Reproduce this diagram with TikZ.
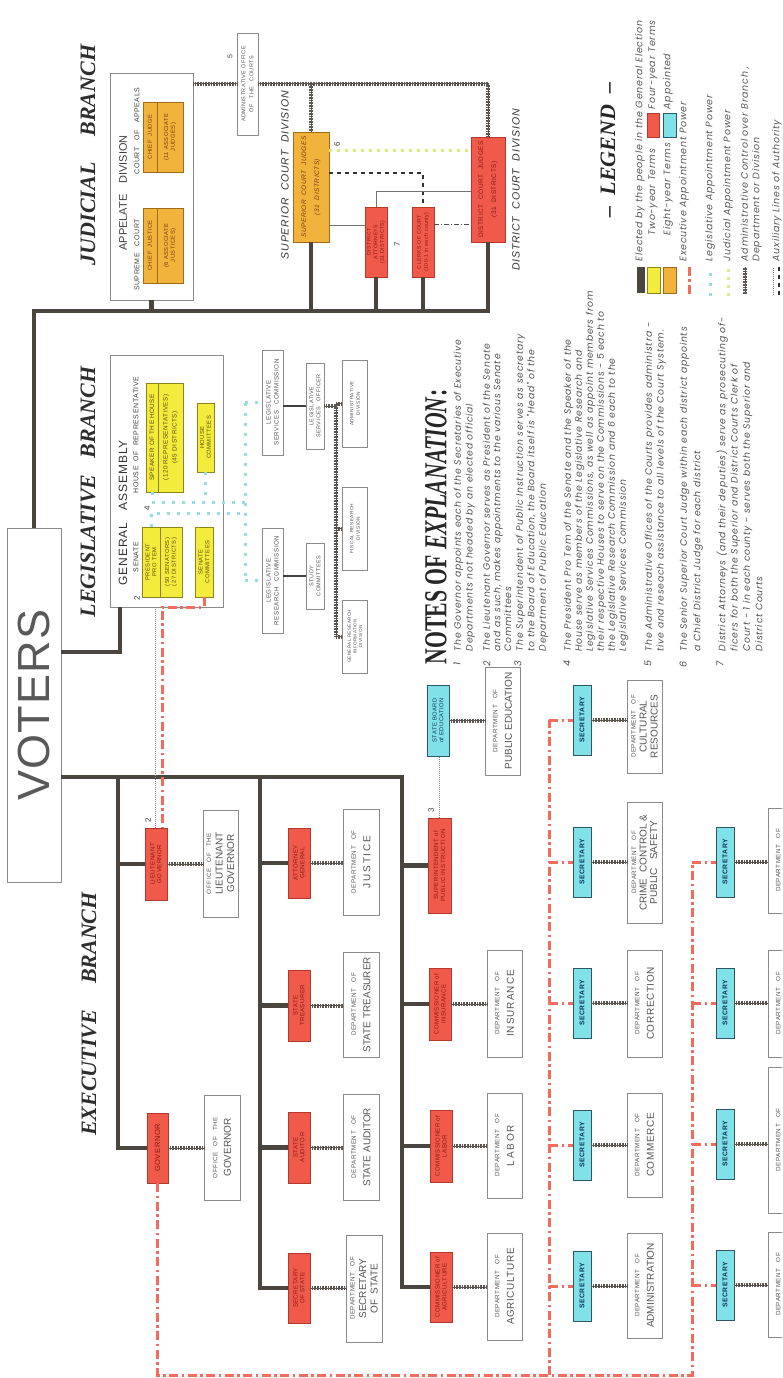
\documentclass[tikz,border=0pt]{standalone}
\usepackage{fontspec}
\usepackage{graphicx}
\setmainfont{Liberation Sans}
\newfontfamily\serifT{Liberation Serif}
\newfontfamily\spaced[LetterSpace=8]{Liberation Sans}
\newfontfamily\wider[LetterSpace=18]{Liberation Sans}
\newfontfamily\notefont[LetterSpace=8]{Poppins}
\newfontfamily\legfont[LetterSpace=8]{Poppins}
\usetikzlibrary{calc}
\definecolor{rfill}{HTML}{EF5A4B}
\definecolor{rdraw}{HTML}{B4392C}
\definecolor{rtext}{HTML}{8A1810}
\definecolor{yfill}{HTML}{F3EC3C}
\definecolor{ydraw}{HTML}{8C8420}
\definecolor{ytext}{HTML}{5C4A10}
\definecolor{ofill}{HTML}{F2B33C}
\definecolor{odraw}{HTML}{A06A1A}
\definecolor{otext}{HTML}{7A3A10}
\definecolor{cfill}{HTML}{80E2E8}
\definecolor{cdraw}{HTML}{2F5666}
\definecolor{ctext}{HTML}{10305A}
\definecolor{trunk}{HTML}{4B4540}
\definecolor{exred}{HTML}{F26B5B}
\definecolor{legcyan}{HTML}{98DDE6}
\definecolor{judyel}{HTML}{DCEB7A}
\definecolor{hatchc}{HTML}{5A5550}
\definecolor{dgray}{HTML}{555555}
\definecolor{bgray}{HTML}{8A8A8A}
\newcommand{\deptof}{{\fontsize{6.3}{7}\spaced DEPARTMENT\quad OF}}
\newcommand{\offthe}{{\fontsize{6.3}{7}\spaced OFFICE\quad OF\quad THE}}
\tikzset{
  sz/.style 2 args={minimum height=#1pt, minimum width=#2pt},
  rot/.style={rotate=90, inner sep=0.5pt, align=center},
  redbox/.style={rot, draw=rdraw, fill=rfill, text=rtext, line width=0.7pt, font=\fontsize{6}{6.8}\spaced},
  cyanbox/.style={rot, draw=cdraw, fill=cfill, text=ctext, line width=0.8pt, font=\fontsize{6.8}{8}\spaced\bfseries},
  yelbox/.style={rot, draw=ydraw, fill=yfill, text=ytext, line width=0.6pt, font=\fontsize{5.8}{6.8}\spaced},
  orbox/.style={rot, draw=odraw, fill=ofill, text=otext, line width=0.6pt, font=\fontsize{5.8}{6.8}\spaced},
  deptbox/.style={rot, draw=bgray, fill=white, text=dgray, line width=0.6pt, font=\fontsize{10}{11.5}\selectfont},
  smallbox/.style={rot, draw=bgray, fill=white, text=dgray, line width=0.6pt, font=\fontsize{5.5}{7}\spaced},
  trunkline/.style={draw=trunk, line width=4.6pt, line join=miter},
  admin/.style={draw=hatchc, line width=1pt, preaction={draw=hatchc, line width=4pt, dash pattern=on 0.7pt off 0.9pt}},
  execline/.style={draw=exred, line width=3pt, dash pattern=on 9pt off 3.5pt on 2.5pt off 3.5pt},
  legline/.style={draw=legcyan, line width=3pt, dash pattern=on 3pt off 7pt},
  judline/.style={draw=judyel, line width=3pt, dash pattern=on 3pt off 5pt},
  auxline/.style={draw=bgray, line width=0.8pt, dash pattern=on 1pt off 1pt},
  auxdash/.style={draw=black!80, line width=1.3pt, dash pattern=on 4pt off 4pt},
  thinline/.style={draw=black!55, line width=0.8pt},
  dashdotthin/.style={draw=black!70, line width=0.9pt, dash pattern=on 5pt off 2pt on 1pt off 2pt},
  staffline/.style={draw=black!75, line width=1.1pt},
  titlefont/.style={rot, text=black!82, font=\serifT\bfseries\itshape\fontsize{22}{24}\selectfont},
  lbl/.style={rot, text=black!75},
  note/.style={rot, anchor=north west, align=left, text=black!68, font=\notefont\itshape\fontsize{9.3}{11.8}\selectfont},
  notenum/.style={rot, text=black!70, font=\notefont\itshape\fontsize{9.5}{12}\selectfont},
  legtext/.style={rot, anchor=west, text=black!65, font=\legfont\itshape\fontsize{9.5}{11}\selectfont},
}
\begin{document}
\begin{tikzpicture}[x=1pt, y=-1pt]
\path[use as bounding box, fill=white] (0,0) rectangle (782,1378);
\clip (0,0) rectangle (782,1378);

% ---------------- titles ----------------
\node[titlefont] (tExec) at (89,1014) {EXECUTIVE\hspace{26pt}BRANCH};
\node[titlefont] (tLeg) at (88,492) {LEGISLATIVE\hspace{16pt}BRANCH};
\node[titlefont] (tJud) at (88,155) {JUDICIAL\hspace{26pt}BRANCH};

% ---------------- voters ----------------
\node[rot, draw=bgray, line width=0.8pt, sz={54}{354}, text=black!65,
      font=\fontsize{45}{50}\selectfont\addfontfeature{LetterSpace=3}] (voters) at (34,705) {VOTERS};

% ---------------- judicial ----------------
\coordinate (jend) at (490,311);
\node[rot, draw=bgray, fill=white, line width=0.7pt, sz={83}{227}] (app) at (151.5,186.5) {};
\node[lbl, font=\fontsize{11}{12}\selectfont] (tApp) at (123,193) {APPELATE\quad DIVISION};
\node[lbl, font=\fontsize{7}{8}\spaced] (tSupC) at (137,255) {SUPREME\quad COURT};
\node[lbl, font=\fontsize{7}{8}\spaced] (tCoa) at (137,131) {COURT\quad OF\quad APPEALS};
\node[orbox, sz={14}{75}] (scj) at (150,245.5) {CHIEF\ \ JUSTICE};
\node[orbox, sz={26}{75}] (sca) at (170,245.5) {(6 ASSOCIATE\\JUSTICES)};
\node[orbox, sz={14}{70}] (caj) at (150,137) {CHIEF\ \ JUDGE};
\node[orbox, sz={26}{70}] (caa) at (170,137) {(11 ASSOCIATE\\JUDGES)};

\node[smallbox, sz={21}{102}, font=\fontsize{5.5}{8}\spaced] (aoc) at (247.5,84) {ADMINISTRATIVE\ OFFICE\\OF\quad THE\quad COURTS};
\node[lbl, font=\fontsize{7}{8}\selectfont] (n5) at (230,57) {5};

\node[orbox, sz={36}{110}, font=\fontsize{6.5}{13}\spaced\itshape] (sup) at (311,187) {SUPERIOR\ \ COURT\ \ JUDGES\\(31\ \ DISTRICTS)};
\node[redbox, sz={22}{70}, font=\fontsize{5.2}{6.6}\spaced] (da) at (376,242) {DISTRICT\\ATTORNEYS\\(31 DISTRICTS)};
\node[redbox, sz={22}{70}, font=\fontsize{5.2}{7}\spaced] (clk) at (423,242) {CLERKS OF COURT\\(100-1 in each county)};
\node[redbox, sz={34}{105}, font=\fontsize{6.5}{13}\spaced] (dist) at (488,189.5) {DISTRICT\ \ COURT\ \ JUDGES\\(31\ \ DISTRICTS)};

\node[lbl, text=black!80, font=\fontsize{10.5}{12}\spaced\itshape] (tSCD) at (285,175) {SUPERIOR\ \ COURT\ \ DIVISION};
\node[lbl, text=black!80, font=\fontsize{10.5}{12}\spaced\itshape] (tDCD) at (516,190) {DISTRICT\ \ COURT\ \ DIVISION};
\node[lbl, font=\fontsize{8}{9}\selectfont] (n6) at (337,144) {6};
\node[lbl, font=\fontsize{8}{9}\selectfont] (n7) at (397,244) {7};

\draw[trunkline] (voters.east) |- (jend);
\draw[trunkline] (app.west) -- (app.west |- jend);
\draw[trunkline] (sup.west) -- (sup.west |- jend);
\draw[trunkline] (da.west) -- (da.west |- jend);
\draw[trunkline] (clk.west) -- (clk.west |- jend);
\draw[trunkline] (dist.west) -- (dist.west |- jend);

\draw[admin] (app.south |- aoc.north) -- (aoc.north);
\draw[admin] (aoc.south) -| (dist.east);
\draw[admin] (sup.east |- aoc.south) -- (sup.east);
\draw[judline] (sup.south |- 0,150) -- (dist.north |- 0,150);
\draw[auxdash] (sup.south |- 0,173) -| (clk.east);
\draw[thinline] (da.east) |- (dist.north |- 0,191);
\draw[thinline] (sup.south |- 0,225) -- (da.north |- 0,225);
\draw[dashdotthin] (clk.south |- 0,224) -- (dist.north |- 0,224);

% ---------------- legislative ----------------
\coordinate (lgA) at (120,652);
\node[rot, draw=bgray, fill=white, line width=0.7pt, sz={113}{252}] (ga) at (166.5,481) {};
\draw[trunkline] (voters.south |- lgA) -| (lgA |- ga.west);
\node[lbl, text=black!80, font=\fontsize{12}{13}\selectfont\addfontfeature{LetterSpace=8}] (tGA) at (123,513) {GENERAL\quad ASSEMBLY};
\node[lbl, font=\fontsize{7}{8}\spaced] (tSen) at (136,557) {SENATE};
\node[lbl, font=\fontsize{7}{8}\spaced] (tHouse) at (136,435) {HOUSE\ \ OF\ \ REPRESENTATIVE};
\node[lbl, font=\fontsize{8}{9}\selectfont] (n2a) at (137,598) {2};
\node[lbl, font=\fontsize{8}{9}\selectfont] (n4) at (147,508) {4};
\node[yelbox, sz={18}{70}] (pres) at (151,562) {PRESIDENT\\PRO TEM};
\node[yelbox, sz={22}{70}] (sen) at (171,562) {(50 SENATORS)\\(27 DISTRICTS)};
\node[yelbox, sz={12}{109}, font=\fontsize{6.3}{7}\spaced] (spk) at (152,437.5) {SPEAKER OF THE HOUSE};
\node[yelbox, sz={25}{109}, font=\fontsize{6.3}{9}\spaced] (rep) at (170.5,437.5) {(120 REPRESENTATIVES)\\(45 DISTRICTS)};
\node[yelbox, sz={18}{70}] (scom) at (204,562) {SENATE\\COMMITTEES};
\node[yelbox, sz={17}{69}] (hcom) at (205.5,437.5) {HOUSE\\COMMITTEES};

\node[smallbox, sz={21}{105}, font=\fontsize{6.2}{8}\spaced] (lsc) at (272.5,402.5) {LEGISLATIVE\\SERVICES\quad COMMISSION};
\node[smallbox, sz={21}{105}, font=\fontsize{6.2}{8}\spaced] (lrc) at (272.5,580.5) {LEGISLATIVE\\RESEARCH\quad COMMISSION};
\node[smallbox, sz={18}{66}] (study) at (315,576) {STUDY\\COMMITTEES};
\node[smallbox, sz={18}{86}] (lso) at (315,406) {LEGISLATIVE\\SERVICES\quad OFFICER};
\node[smallbox, sz={25}{87}, font=\fontsize{4.8}{6.5}\spaced] (dadm) at (355,403.5) {ADMINISTRATIVE\\DIVISION};
\node[smallbox, sz={25}{83}, font=\fontsize{4.8}{6.5}\spaced] (dfis) at (355,528.5) {FISCAL\ RESEARCH\\DIVISION};
\node[smallbox, sz={25}{73}, font=\fontsize{4.5}{5.6}\spaced] (dgri) at (355,636.5) {GENERAL RESEARCH\\INFORMATION\\DIVISION};

\coordinate (hx) at (336,0);
\draw[staffline] (lrc.south |- study.north) -- (study.north);
\draw[staffline] (lsc.south |- lso.north) -- (lso.north);
\draw[admin] (lso.south) -- (hx |- lso.south);
\draw[admin] (hx |- dadm.north) -- (hx |- dgri.north);
\draw[admin] (hx |- dadm.north) -- (dadm.north);
\draw[admin] (hx |- dfis.north) -- (dfis.north);
\draw[admin] (hx |- dgri.north) -- (dgri.north);

\coordinate (cv) at (245,0);
\draw[legline] (spk.west) |- (cv |- 0,502);
\draw[legline] (pres.east) |- (cv |- 0,513);
\draw[legline] (hcom.west) -- (hcom.west |- 0,502);
\draw[legline] (cv |- lsc.north) -- (cv |- lrc.north);
\draw[legline] (cv |- lsc.north) -- (lsc.north);
\draw[legline] (cv |- lrc.north) -- (lrc.north);

% ---------------- executive ----------------
\coordinate (eT1) at (118,777);
\coordinate (eT2) at (260,777);
\coordinate (eT3) at (402,777);

\node[redbox, sz={22}{72}] (ltgov) at (156,864) {LIEUTENANT\\GOVERNOR};
\node[redbox, sz={21}{70}, font=\fontsize{7.5}{8}\spaced] (gov) at (157.5,1148) {GOVERNOR};
\node[redbox, sz={22}{70}] (ag) at (299,863) {ATTORNEY\\GENERAL};
\node[redbox, sz={22}{71}] (treas) at (299,1005.5) {STATE\\TREASURER};
\node[redbox, sz={22}{71}] (aud) at (299,1147.5) {STATE\\AUDITOR};
\node[redbox, sz={22}{70}] (sos) at (299,1288) {SECRETARY\\OF STATE};
\node[redbox, sz={23}{95}] (supt) at (439.5,865.5) {SUPERINTENDENT of\\PUBLIC INSTRUCTION};
\node[redbox, sz={22}{72}] (ins) at (440,1004) {COMMISSIONER of\\INSURANCE};
\node[redbox, sz={22}{72}] (lab) at (441,1146) {COMMISSIONER of\\LABOR};
\node[redbox, sz={22}{70}] (agr) at (441,1287) {COMMISSIONER of\\AGRICULTURE};
\node[cyanbox, sz={22}{71}, font=\fontsize{5.8}{6.8}\spaced] (sbe) at (438,720.5) {STATE BOARD\\of EDUCATION};
\node[lbl, font=\fontsize{8}{9}\selectfont] (n2b) at (148,820) {2};
\node[lbl, font=\fontsize{8}{9}\selectfont] (n3) at (431,810) {3};

\node[deptbox, sz={35}{107}] (offltgov) at (220.5,863.5) {\offthe\\LIEUTENANT\\GOVERNOR};
\node[deptbox, sz={36}{105}] (offgov) at (222,1147.5) {\offthe\\[2pt]GOVERNOR};
\node[deptbox, sz={36}{106}] (djus) at (361,862) {\deptof\\[3pt]{\wider JUSTICE}};
\node[deptbox, sz={36}{105}] (dtreas) at (361,1004.5) {\deptof\\[3pt]STATE TREASURER};
\node[deptbox, sz={36}{106}] (daud) at (361,1147) {\deptof\\[3pt]STATE AUDITOR};
\node[deptbox, sz={36}{107}] (dsos) at (364,1288.5) {\deptof\\SECRETARY\\OF\ \ STATE};
\node[deptbox, sz={35}{108}] (dpe) at (502.5,721) {\deptof\\[3pt]PUBLIC EDUCATION};
\node[deptbox, sz={35}{107}] (dins) at (504.5,1003.5) {\deptof\\[3pt]{\addfontfeature{LetterSpace=10}INSURANCE}};
\node[deptbox, sz={35}{105}] (dlab) at (504.5,1145.5) {\deptof\\[3pt]{\wider LABOR}};
\node[deptbox, sz={35}{107}] (dagr) at (504.5,1286.5) {\deptof\\[3pt]{\addfontfeature{LetterSpace=6}AGRICULTURE}};

\draw[trunkline] (voters.south |- eT3) -- (eT3) |- (agr.north);
\draw[trunkline] (eT1) |- (gov.north);
\draw[trunkline] (eT1 |- ltgov.north) -- (ltgov.north);
\draw[trunkline] (eT2) |- (sos.north);
\draw[trunkline] (eT2 |- ag.north) -- (ag.north);
\draw[trunkline] (eT2 |- treas.north) -- (treas.north);
\draw[trunkline] (eT2 |- aud.north) -- (aud.north);
\draw[trunkline] (eT3 |- supt.north) -- (supt.north);
\draw[trunkline] (eT3 |- ins.north) -- (ins.north);
\draw[trunkline] (eT3 |- lab.north) -- (lab.north);

\draw[admin] (ltgov.south) -- (ltgov.south -| offltgov.north);
\draw[admin] (gov.south) -- (gov.south -| offgov.north);
\draw[admin] (ag.south) -- (ag.south -| djus.north);
\draw[admin] (treas.south) -- (treas.south -| dtreas.north);
\draw[admin] (aud.south) -- (aud.south -| daud.north);
\draw[admin] (sos.south) -- (sos.south -| dsos.north);
\draw[admin] (ins.south) -- (ins.south -| dins.north);
\draw[admin] (lab.south) -- (lab.south -| dlab.north);
\draw[admin] (agr.south) -- (agr.south -| dagr.north);
\draw[admin] (sbe.south) -- (sbe.south -| dpe.north);
\draw[auxline] (supt.east) -- (supt.east |- sbe.west);

% senate -> lieutenant governor
\coordinate (lr) at (162,607);
\draw[execline] (scom.west) |- (lr) -- (lr |- ltgov.east);
\draw[auxline] (ga.west -| 155,0) -- (ltgov.east -| 155,0);

% ---------------- secretaries ----------------
\foreach \nm/\yy in {s1a/720, s1b/862, s1c/1003, s1d/1145, s1e/1286}
  \node[cyanbox, sz={18}{70}] (\nm) at (582,\yy) {SECRETARY};
\foreach \nm/\yy in {s2a/862, s2b/1003, s2c/1144, s2d/1285}
  \node[cyanbox, sz={18}{70}] (\nm) at (725,\yy) {SECRETARY};

\node[deptbox, sz={35}{93}, font=\fontsize{10}{11}\selectfont] (dcr) at (644.5,726.5) {\deptof\\CULTURAL\\RESOURCES};
\node[deptbox, sz={35}{121}, font=\fontsize{10}{10.5}\selectfont] (dccps) at (644.5,862.5) {\deptof\\CRIME\ \ CONTROL \&\\PUBLIC\ \ \ SAFETY};
\node[deptbox, sz={35}{107}] (dcor) at (644.5,1003.5) {\deptof\\[3pt]{\addfontfeature{LetterSpace=6}CORRECTION}};
\node[deptbox, sz={35}{104}] (dcom) at (644.5,1145) {\deptof\\[3pt]{\addfontfeature{LetterSpace=6}COMMERCE}};
\node[deptbox, sz={35}{105}] (dadmn) at (644.5,1285.5) {\deptof\\[3pt]ADMINISTRATION};
\node[deptbox, sz={35}{105}] (dx1) at (785.5,860.5) {\deptof\\[3pt]\phantom{X}};
\node[deptbox, sz={35}{107}] (dx2) at (785.5,1003.5) {\deptof\\[3pt]\phantom{X}};
\node[deptbox, sz={35}{146}] (dx3) at (785.5,1140) {\deptof\\[3pt]\phantom{X}};
\node[deptbox, sz={35}{105}] (dx4) at (785.5,1284.5) {\deptof\\[3pt]\phantom{X}};

\foreach \s/\d in {s1a/dcr, s1b/dccps, s1c/dcor, s1d/dcom, s1e/dadmn, s2a/dx1, s2b/dx2, s2c/dx3, s2d/dx4}
  \draw[admin] (\s.south) -- (\s.south -| \d.north);

\coordinate (rc1) at (549,0);
\coordinate (rc2) at (692,0);
\draw[execline] (gov.west) |- (rc2 |- 0,1375) -- (rc2 |- s2a.north);
\draw[execline] (rc1 |- 0,1375) -- (rc1 |- s1a.north);
\foreach \s in {s1a, s1b, s1c, s1d, s1e}
  \draw[execline] (rc1 |- \s.north) -- (\s.north);
\foreach \s in {s2a, s2b, s2c, s2d}
  \draw[execline] (rc2 |- \s.north) -- (\s.north);

% ---------------- notes ----------------
\node[rot, text=black!85, font=\serifT\bfseries\fontsize{32}{34}\selectfont] (tNotes) at (436,527)
  {\scalebox{0.68}[1]{NOTES OF \textit{EXPLANATION}:}};

\node[notenum] (k1) at (457,664) {1};
\node[note] (t1) at (453,652) {The Governor appoints each of the Secretaries of Executive\\Departments not headed by an elected official};
\node[notenum] (k2) at (487,664) {2};
\node[note, font=\notefont\itshape\fontsize{9.3}{10.6}\selectfont] (t2) at (482,652) {The Lieutenant Governor serves as President of the Senate\\and as such, makes appointments to the various Senate\\Committees};
\node[notenum] (k3) at (518,664) {3};
\node[note, font=\notefont\itshape\fontsize{9.3}{11.5}\selectfont] (t3) at (515,652) {The Superintendent of Public Instruction serves as secretary\\to the Board of Education, the Board itself is "Head" of the\\Department of Public Education};
\node[notenum] (k4) at (567,664) {4};
\node[note, font=\notefont\itshape\fontsize{9.3}{11}\selectfont] (t4) at (563,652) {The President Pro Tem of the Senate and the Speaker of the\\House serve as members of the Legislative Research and\\Legislative Services Commissions, as well as appoint members from\\their respective Houses to serve on the Commissions - 5 each to\\the Legislative Research Commission and 6 each to the\\Legislative Services Commission};
\node[notenum] (k5) at (648,664) {5};
\node[note] (t5) at (644,652) {The Administrative Offices of the Courts provides administra -\\tive and reseach assistance to all levels of the Court System.};
\node[notenum] (k6) at (683,664) {6};
\node[note, font=\notefont\itshape\fontsize{9.3}{13.5}\selectfont] (t6) at (679,652) {The Senior Superior Court Judge within each district appoints\\a Chief District Judge for each district};
\node[notenum] (k7) at (720,664) {7};
\node[note, font=\notefont\itshape\fontsize{9.3}{12.3}\selectfont] (t7) at (716,652) {District Attorneys (and their deputies) serve as prosecuting of-\\ficers for both the Superior and District Courts Clerk of\\Court - 1 in each county - serves both the Superior and\\District Courts};

% ---------------- legend ----------------
\node[titlefont, text=black!85] (tLegend) at (608,150) {\textendash\enspace LEGEND\enspace\textendash};
\node[rot, fill=trunk, sz={8}{26}] (sw1) at (641,280) {};
\node[rot, fill=yfill, draw=ydraw, line width=0.7pt, sz={13}{26}] (sw2) at (653.5,280) {};
\node[rot, fill=rfill, draw=rdraw, line width=0.7pt, sz={12}{24}] (sw3) at (653,125) {};
\node[rot, fill=ofill, draw=odraw, line width=0.7pt, sz={13}{26}] (sw4) at (670,280) {};
\node[rot, fill=cfill, draw=cdraw, line width=0.7pt, sz={13}{24}] (sw5) at (669.5,125) {};
\draw[execline] (689,294) -- (689,266);
\draw[legline] (710,296) -- (710,266);
\draw[judline] (728,296) -- (728,266);
\draw[admin] (745,294) -- (745,267);
\draw[auxline] (773,295) -- (773,267);
\draw[auxdash] (779,295) -- (779,267);

\node[legtext] (l1) at (640,262) {Elected by the people in the General Election};
\node[legtext] (l2) at (653,236) {Two-year Terms};
\node[legtext] (l3) at (653,110) {Four-year Terms};
\node[legtext] (l4) at (668,236) {Eight-year Terms};
\node[legtext] (l5) at (668,110) {Appointed};
\node[legtext] (l6) at (684,262) {Executive Appointment Power};
\node[legtext] (l7) at (710,262) {Legislative Appointment Power};
\node[legtext] (l8) at (728,262) {Judicial Appointment Power};
\node[legtext] (l9) at (745,262) {Administrative Control over Branch ,};
\node[legtext] (l10) at (757,262) {Department or Division};
\node[legtext] (l11) at (777,262) {Auxiliary Lines of Authority};
\end{tikzpicture}
\end{document}
